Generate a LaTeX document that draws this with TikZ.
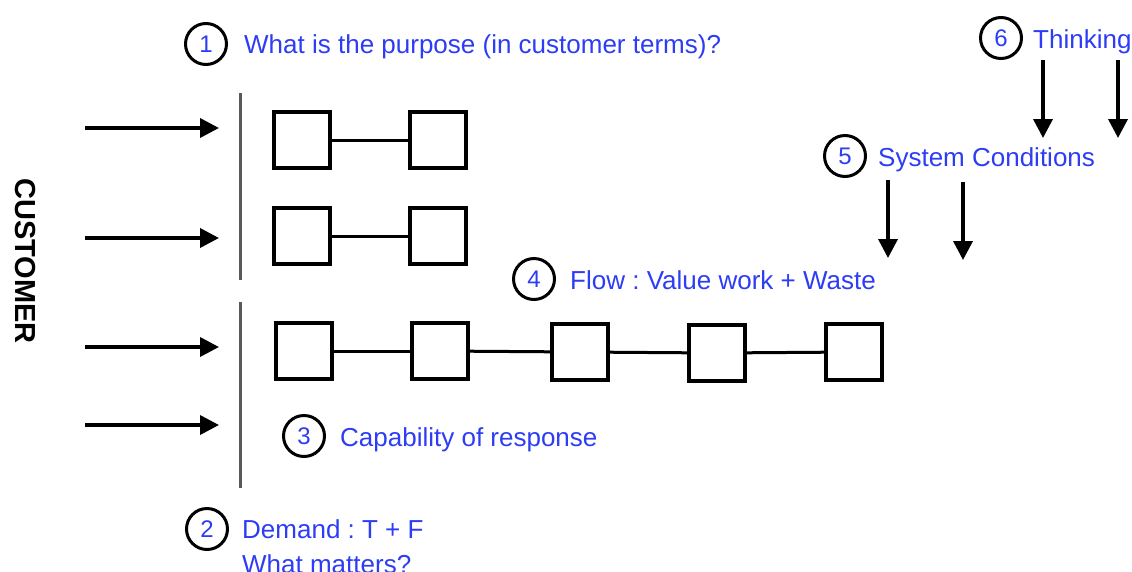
\documentclass[tikz,border=0pt]{standalone}
\usepackage{fontspec}
\setmainfont{Liberation Sans}
\usetikzlibrary{arrows.meta}
\definecolor{lblue}{RGB}{45,60,245}
\frenchspacing
\begin{document}
\begin{tikzpicture}[x=1pt,y=-1pt,
  boxn/.style={draw,line width=3.4pt,minimum width=56pt,minimum height=56pt,inner sep=0pt},
  link/.style={line width=3pt},
  inarrow/.style={line width=3.6pt,-{Triangle[length=19pt,width=19pt]}},
  numc/.style={draw,circle,line width=3pt,minimum size=41pt,inner sep=0pt,text=lblue,font=\fontsize{24}{28}\selectfont},
  lbl/.style={anchor=base west,inner sep=0pt,text=lblue,font=\fontsize{26}{36}\selectfont},
  sepline/.style={line width=3pt,black!65,dash pattern=on 1.5pt off 0.5pt}]
\useasboundingbox (0,0) rectangle (1132,571);
\fill[white] (0,0) rectangle (1132,571);

% customer label
\node[rotate=-90,font=\bfseries\fontsize{29}{32}\selectfont,inner sep=0pt] (cust) at (25,261) {CUSTOMER};

% incoming arrows
\coordinate (a1s) at (85,128);  \coordinate (a1e) at (219,128);
\coordinate (a2s) at (85,238);  \coordinate (a2e) at (219,238);
\coordinate (a3s) at (85,347);  \coordinate (a3e) at (219,347);
\coordinate (a4s) at (85,425);  \coordinate (a4e) at (219,425);
\draw[inarrow] (a1s) -- (a1e);
\draw[inarrow] (a2s) -- (a2e);
\draw[inarrow] (a3s) -- (a3e);
\draw[inarrow] (a4s) -- (a4e);

% separator lines
\coordinate (s1t) at (240,93);  \coordinate (s1b) at (240,280);
\coordinate (s2t) at (240,302); \coordinate (s2b) at (240,488);
\draw[sepline] (s1t) -- (s1b);
\draw[sepline] (s2t) -- (s2b);

% boxes
\node[boxn] (r1a) at (302,140) {};
\node[boxn] (r1b) at (438,140) {};
\node[boxn] (r2a) at (302,236) {};
\node[boxn] (r2b) at (438,236) {};
\node[boxn] (r3a) at (304,351) {};
\node[boxn] (r3b) at (440,351) {};
\node[boxn] (r3c) at (580,352) {};
\node[boxn] (r3d) at (717,353) {};
\node[boxn] (r3e) at (854,352) {};
\draw[link] (r1a) -- (r1b);
\draw[link] (r2a) -- (r2b);
\draw[link] (r3a) -- (r3b);
\draw[link] (r3b) -- (r3c);
\draw[link] (r3c) -- (r3d);
\draw[link] (r3d) -- (r3e);

% numbered labels
\node[numc] (c1) at (206,44) {1};
\node[lbl] (t1) at (244,53) {What is the purpose (in customer terms)?};
\node[numc] (c6) at (1001,38) {6};
\node[lbl] (t6) at (1033,48) {Thinking};
\node[numc] (c5) at (845,156) {5};
\node[lbl] (t5) at (878,166) {System Conditions};
\node[numc] (c4) at (534,279) {4};
\node[lbl] (t4) at (570,289) {Flow : Value work + Waste};
\node[numc] (c3) at (304,436) {3};
\node[lbl] (t3) at (340,446) {Capability of response};
\node[numc] (c2) at (207,529) {2};
\node[lbl] (t2) at (242,538) {Demand : T + F};
\node[lbl] (t2b) at (242,573) {What matters?};

% downward arrows
\coordinate (d1s) at (1043,60);  \coordinate (d1e) at (1043,138);
\coordinate (d2s) at (1118,60);  \coordinate (d2e) at (1118,138);
\coordinate (d3s) at (888,180);  \coordinate (d3e) at (888,258);
\coordinate (d4s) at (963,182);  \coordinate (d4e) at (963,260);
\draw[inarrow] (d1s) -- (d1e);
\draw[inarrow] (d2s) -- (d2e);
\draw[inarrow] (d3s) -- (d3e);
\draw[inarrow] (d4s) -- (d4e);
\end{tikzpicture}
\end{document}
